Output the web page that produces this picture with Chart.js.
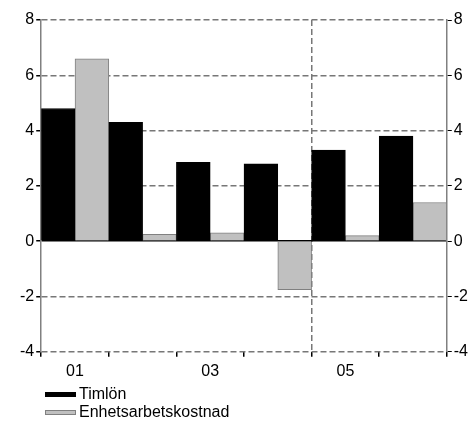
<!DOCTYPE html>
<html>
<head>
<meta charset="utf-8">
<script src="https://cdn.jsdelivr.net/npm/chart.js@4/dist/chart.umd.min.js"></script>
<style>
  body { margin: 0; background: #fff; }
  #wrap { position: relative; width: 474px; height: 421px; }
  #legend { position: absolute; left: 45px; top: 385px; font: 16px "Liberation Sans", Arial, sans-serif; color: #000; }
  .item { height: 18px; line-height: 18px; display: flex; align-items: center; }
  .swatch { width: 31px; height: 5px; margin-right: 3px; box-sizing: border-box; }
</style>
</head>
<body>
<div id="wrap">
  <canvas id="chart" width="474" height="421"></canvas>
  <div id="legend"></div>
</div>
<script>
const labels = ['01', '02', '03', '04', '05', '06'];
const timlon = [4.8, 4.3, 2.85, 2.8, 3.3, 3.8];
const enhetsarbetskostnad = [6.6, 0.25, 0.3, -1.75, 0.2, 1.4];
const yTicks = [-4, -2, 0, 2, 4, 6, 8];

const seriesNames = ['Timlön', 'Enhetsarbetskostnad'];
const fills = ['#000000', '#c0c0c0'];
const borders = ['#000000', '#808080'];

// Legend below the chart
const legend = document.getElementById('legend');
seriesNames.forEach((name, i) => {
    legend.innerHTML += `<div class="item"><span class="swatch" style="background:${fills[i]};border:1px solid ${borders[i]}"></span>${name}</div>`;
});

const font = { family: '"Liberation Sans", Arial, sans-serif', size: 16 };
const gridGray = '#777777';

new Chart(document.getElementById('chart'), {
    type: 'bar',
    data: {
        labels: labels,
        datasets: [timlon, enhetsarbetskostnad].map((values, i) => ({
            label: seriesNames[i],
            data: values,
            backgroundColor: fills[i],
            borderColor: borders[i],
            borderWidth: 1,
            barPercentage: 1,
            categoryPercentage: 1
        }))
    },
    options: {
        responsive: false,
        animation: false,
        layout: { padding: { left: 18, right: 4, top: 20, bottom: 35 } },
        plugins: { legend: { display: false }, tooltip: { enabled: false } },
        scales: {
            x: {
                offset: true,
                grid: {
                    offset: true,
                    color: ctx => ctx.index === 4 ? gridGray : 'rgba(0,0,0,0)',
                    tickColor: '#000',
                    tickLength: 5,
                    lineWidth: 1.5
                },
                border: { display: false, dash: [6, 3] },
                ticks: {
                    autoSkip: false,
                    maxRotation: 0,
                    padding: 5,
                    color: '#000',
                    font: font,
                    callback: function(val, i) {
                        return i % 2 === 0 ? this.getLabelForValue(val) : '';
                    }
                }
            },
            y: {
                position: 'left',
                min: -4,
                max: 8,
                afterBuildTicks: axis => { axis.ticks = yTicks.map(v => ({ value: v })); },
                grid: {
                    color: ctx => ctx.tick && ctx.tick.value === 0 ? '#000' : gridGray,
                    tickColor: '#000',
                    tickLength: 5,
                    lineWidth: 1.5
                },
                border: {
                    display: true,
                    color: '#808080',
                    width: 1.5,
                    dash: ctx => ctx.tick && ctx.tick.value === 0 ? [] : [6, 3]
                },
                ticks: { padding: 2, color: '#000', font: font }
            },
            y2: {
                position: 'right',
                min: -4,
                max: 8,
                afterBuildTicks: axis => { axis.ticks = yTicks.map(v => ({ value: v })); },
                grid: { drawOnChartArea: false, tickColor: '#000', tickLength: 5 },
                border: { display: true, color: '#808080', width: 1.5 },
                ticks: { padding: 2, color: '#000', font: font }
            }
        }
    }
});
</script>
</body>
</html>
